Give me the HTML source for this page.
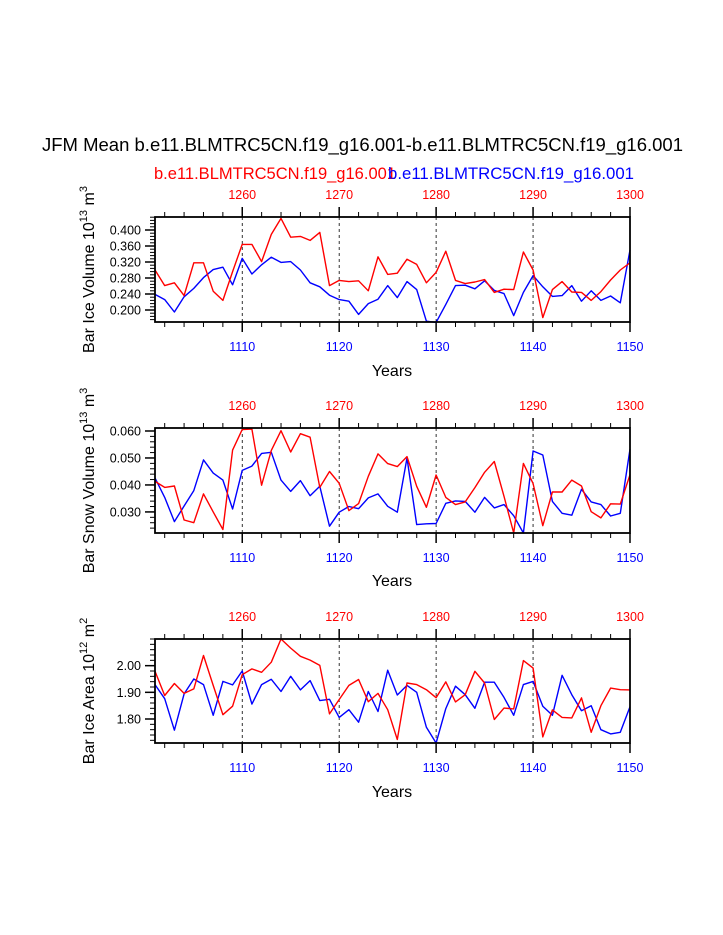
<!DOCTYPE html>
<html><head><meta charset="utf-8"><style>
html,body{margin:0;padding:0;background:#fff;}
svg{display:block;font-family:"Liberation Sans",sans-serif;}
</style></head><body>
<svg id="c" width="723" height="935">
<text x="42" y="151" font-size="18.5" textLength="641" lengthAdjust="spacingAndGlyphs">JFM Mean b.e11.BLMTRC5CN.f19_g16.001-b.e11.BLMTRC5CN.f19_g16.001</text>
<text x="154" y="179" font-size="16.6" fill="#f00" textLength="242" lengthAdjust="spacingAndGlyphs">b.e11.BLMTRC5CN.f19_g16.001</text>
<text x="388" y="179" font-size="16.6" fill="#00f" textLength="246" lengthAdjust="spacingAndGlyphs">b.e11.BLMTRC5CN.f19_g16.001</text>
</svg>
<script>
const years = Array.from({length:50},(_,i)=>1101+i);
const iceVolRed = [0.300,0.261,0.268,0.236,0.318,0.318,0.247,0.224,0.296,0.364,0.364,0.321,0.389,0.429,0.382,0.384,0.374,0.394,0.261,0.274,0.271,0.273,0.248,0.333,0.289,0.292,0.327,0.314,0.268,0.294,0.347,0.274,0.266,0.270,0.276,0.244,0.252,0.251,0.345,0.300,0.181,0.251,0.271,0.245,0.244,0.224,0.246,0.275,0.300,0.318];
const iceVolBlue = [0.239,0.226,0.195,0.233,0.254,0.281,0.301,0.307,0.263,0.329,0.290,0.313,0.332,0.319,0.321,0.300,0.268,0.258,0.237,0.226,0.222,0.189,0.216,0.227,0.261,0.231,0.271,0.251,0.172,0.169,0.214,0.261,0.262,0.253,0.273,0.249,0.241,0.186,0.244,0.286,0.258,0.234,0.236,0.261,0.222,0.248,0.224,0.235,0.218,0.350];
const snowRed = [0.0413,0.0391,0.0396,0.0270,0.0260,0.0367,0.0300,0.0235,0.0529,0.0605,0.0607,0.0399,0.0528,0.0601,0.0522,0.0590,0.0577,0.0391,0.0450,0.0406,0.0305,0.0331,0.0432,0.0515,0.0479,0.0468,0.0505,0.0395,0.0317,0.0437,0.0354,0.0327,0.0337,0.0390,0.0447,0.0487,0.0358,0.0222,0.0480,0.0405,0.0249,0.0374,0.0374,0.0418,0.0396,0.0301,0.0278,0.0330,0.0329,0.0438];
const snowBlue = [0.0426,0.0354,0.0264,0.0322,0.0379,0.0493,0.0444,0.0418,0.0311,0.0454,0.0470,0.0517,0.0521,0.0418,0.0376,0.0416,0.0360,0.0395,0.0247,0.0299,0.0320,0.0312,0.0352,0.0367,0.0321,0.0299,0.0500,0.0253,0.0256,0.0257,0.0332,0.0341,0.0339,0.0299,0.0354,0.0315,0.0327,0.0286,0.0222,0.0526,0.0511,0.0339,0.0295,0.0288,0.0384,0.0337,0.0327,0.0285,0.0295,0.0533];
const areaRed = [1.979,1.888,1.933,1.896,1.913,2.038,1.926,1.816,1.848,1.966,1.988,1.975,2.013,2.100,2.066,2.035,2.021,2.001,1.819,1.873,1.926,1.948,1.865,1.896,1.835,1.723,1.935,1.929,1.910,1.880,1.939,1.864,1.891,1.979,1.935,1.798,1.841,1.838,2.019,1.991,1.733,1.834,1.806,1.804,1.879,1.750,1.850,1.916,1.910,1.909];
const areaBlue = [1.929,1.876,1.758,1.894,1.950,1.929,1.814,1.941,1.928,1.980,1.856,1.929,1.949,1.903,1.960,1.909,1.944,1.869,1.874,1.806,1.835,1.788,1.903,1.828,1.983,1.890,1.926,1.900,1.769,1.710,1.839,1.923,1.891,1.840,1.938,1.938,1.881,1.814,1.929,1.941,1.848,1.814,1.964,1.891,1.831,1.850,1.760,1.744,1.750,1.846];
const iceVolTicks = ["0.400","0.360","0.320","0.280","0.240","0.200"];
const snowTicks = ["0.060","0.050","0.040","0.030"];
const areaTicks = ["2.00","1.90","1.80"];
const bottomTickYears = [1110,1120,1130,1140,1150];
const topTickLabels = ["1260","1270","1280","1290","1300"];

const svg=document.getElementById('c');
const NS='http://www.w3.org/2000/svg';
function mk(tag,attrs,parent){const e=document.createElementNS(NS,tag);for(const k in attrs)e.setAttribute(k,attrs[k]);(parent||svg).appendChild(e);return e;}
const X0=155,X1=630;
const xs=y=>X0+(y-1101)*(X1-X0)/49;

const panels=[
 {top:217,bot:322,vmin:0.1700,vmax:0.4325,ticks:iceVolTicks,minorStep:0.008,red:iceVolRed,blue:iceVolBlue,ylab:"Bar Ice Volume 10",sup1:"13",unit:" m",sup2:"3",xl:370,name:"ice-volume"},
 {top:428,bot:533,vmin:0.02219,vmax:0.06111,ticks:snowTicks,minorStep:0.002,red:snowRed,blue:snowBlue,ylab:"Bar Snow Volume 10",sup1:"13",unit:" m",sup2:"3",xl:580,name:"snow-volume"},
 {top:639,bot:743,vmin:1.7100,vmax:2.1000,ticks:areaTicks,minorStep:0.02,red:areaRed,blue:areaBlue,ylab:"Bar Ice Area 10",sup1:"12",unit:" m",sup2:"2",xl:791,name:"ice-area"}
];
panels.forEach(p=>{
 const g=mk('g',{});
 
 
 const ys=v=>p.bot-(v-p.vmin)*(p.bot-p.top)/(p.vmax-p.vmin);
 [1110,1120,1130,1140].forEach(yr=>{
  const l=mk('line',{x1:xs(yr),x2:xs(yr),y1:p.top,y2:p.bot,stroke:'#000','stroke-width':0.8,'stroke-dasharray':'3,3'},g);
  
  
 });
 for(let yr=1102;yr<=1150;yr+=2){
  const major=(yr%10===0);const len=major?10:5;const x=xs(yr);
  mk('line',{x1:x,x2:x,y1:p.bot,y2:p.bot+len,stroke:'#000','stroke-width':major?1.5:1},g);
  mk('line',{x1:x,x2:x,y1:p.top,y2:p.top-len,stroke:'#000','stroke-width':major?1.5:1},g);
 }
 bottomTickYears.forEach((yr,i)=>{
  const t=mk('text',{x:xs(yr),y:p.bot+29,'font-size':12.5,fill:'#00f','text-anchor':'middle'},g);t.textContent=yr;
  
  
  const t2=mk('text',{x:xs(yr),y:p.top-18,'font-size':12.5,fill:'#f00','text-anchor':'middle'},g);t2.textContent=topTickLabels[i];
  
  
 });
 const start=Math.ceil(p.vmin/p.minorStep-1e-6);
 for(let k=start;k*p.minorStep<=p.vmax+1e-9;k++){
  const v=k*p.minorStep;mk('line',{x1:X0-5,x2:X0,y1:ys(v),y2:ys(v),stroke:'#000','stroke-width':1},g);
 }
 p.ticks.forEach(s=>{
  const v=parseFloat(s);const y=ys(v);
  mk('line',{x1:X0-10,x2:X0,y1:y,y2:y,stroke:'#000','stroke-width':1.5},g);
  const t=mk('text',{x:X0-14,y:y+4.5,'font-size':12.5,'text-anchor':'end'},g);t.textContent=s;
  
  
 });
 [[p.blue,'#00f','blue'],[p.red,'#f00','red']].forEach(([arr,col,nm])=>{
  const pts=arr.map((v,i)=>xs(years[i]).toFixed(1)+','+ys(v).toFixed(1)).join(' ');
  const pl=mk('polyline',{points:pts,fill:'none',stroke:col,'stroke-width':1.4,'stroke-linejoin':'round'},g);
  
  
 });
 const r=mk('rect',{x:X0,y:p.top,width:X1-X0,height:p.bot-p.top,fill:'none',stroke:'#000','stroke-width':1.8},g);
 
 
 const xl=mk('text',{x:392,y:p.xl+6,'font-size':16,'text-anchor':'middle'},g);xl.textContent='Years';
 
 
 const cy=(p.top+p.bot)/2;
 const yl=mk('text',{x:0,y:0,'font-size':16,'text-anchor':'middle',transform:`translate(94,${cy}) rotate(-90)`},g);
 
 
 const a=mk('tspan',{},yl);a.textContent=p.ylab;
 const b=mk('tspan',{'font-size':11,dy:-7},yl);b.textContent=p.sup1;
 const c=mk('tspan',{dy:7},yl);c.textContent=p.unit;
 const d=mk('tspan',{'font-size':11,dy:-7},yl);d.textContent=p.sup2;
});
</script>
</body></html>
